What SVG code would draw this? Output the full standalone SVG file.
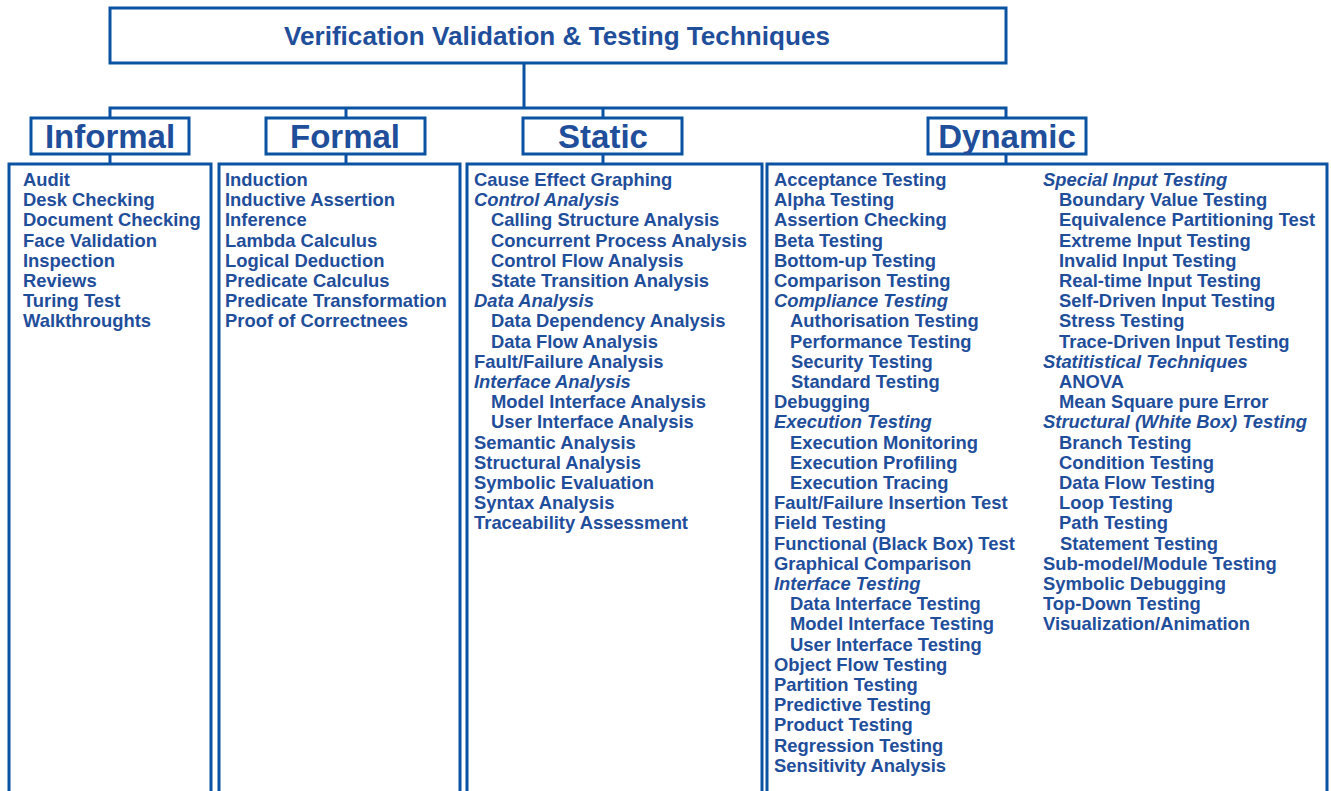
<svg xmlns="http://www.w3.org/2000/svg" width="1331" height="791" viewBox="0 0 1331 791">
<style>
.box{fill:#fff;stroke:#0a52a2;stroke-width:3}
.ln{fill:none;stroke:#0a52a2;stroke-width:3}
.t{font-family:"Liberation Sans",Arial,sans-serif;font-weight:bold;fill:#1f4e9b}
.it{font-style:italic}
.cat{font-size:33px;text-anchor:middle}
.li{font-size:18.4px}
</style>
<rect width="1331" height="791" fill="#fff"/>
<g id="connectors">
<path class="ln" d="M524 63V108M110 108H1006M110 106.5V118M346 108V118M603 108V118M1006 106.5V118M110 154V164M346 154V164M603 154V164M1006 154V164"/>
</g>
<g id="title">
<rect class="box" x="110" y="8" width="896" height="55"/>
<text class="t" x="284" y="45" font-size="26" textLength="546" lengthAdjust="spacingAndGlyphs">Verification Validation &amp; Testing Techniques</text>
</g>
<g id="informal">
<rect class="box" x="31" y="118" width="158" height="36"/>
<text class="t cat" x="110" y="148">Informal</text>
</g>
<g id="formal">
<rect class="box" x="266" y="118" width="159" height="36"/>
<text class="t cat" x="345" y="148">Formal</text>
</g>
<g id="static">
<rect class="box" x="523" y="118" width="159" height="36"/>
<text class="t cat" x="603" y="148">Static</text>
</g>
<g id="dynamic">
<rect class="box" x="928" y="118" width="158" height="36"/>
<text class="t cat" x="1007" y="148">Dynamic</text>
</g>
<g id="informal-list">
<rect class="box" x="9" y="164" width="202" height="640"/>
<text class="t li" x="23" y="186">Audit</text>
<text class="t li" x="23" y="206.2">Desk Checking</text>
<text class="t li" x="23" y="226.4">Document Checking</text>
<text class="t li" x="23" y="246.6">Face Validation</text>
<text class="t li" x="23" y="266.8">Inspection</text>
<text class="t li" x="23" y="287">Reviews</text>
<text class="t li" x="23" y="307.2">Turing Test</text>
<text class="t li" x="23" y="327.4">Walkthroughts</text>
</g>
<g id="formal-list">
<rect class="box" x="219" y="164" width="241" height="640"/>
<text class="t li" x="225" y="186">Induction</text>
<text class="t li" x="225" y="206.2">Inductive Assertion</text>
<text class="t li" x="225" y="226.4">Inference</text>
<text class="t li" x="225" y="246.6">Lambda Calculus</text>
<text class="t li" x="225" y="266.8">Logical Deduction</text>
<text class="t li" x="225" y="287">Predicate Calculus</text>
<text class="t li" x="225" y="307.2">Predicate Transformation</text>
<text class="t li" x="225" y="327.4">Proof of Correctnees</text>
</g>
<g id="static-list">
<rect class="box" x="467" y="164" width="295" height="640"/>
<text class="t li" x="474" y="186">Cause Effect Graphing</text>
<text class="t li it" x="474" y="206.2">Control Analysis</text>
<text class="t li" x="491" y="226.4">Calling Structure Analysis</text>
<text class="t li" x="491" y="246.6">Concurrent Process Analysis</text>
<text class="t li" x="491" y="266.8">Control Flow Analysis</text>
<text class="t li" x="491" y="287">State Transition Analysis</text>
<text class="t li it" x="474" y="307.2">Data Analysis</text>
<text class="t li" x="491" y="327.4">Data Dependency Analysis</text>
<text class="t li" x="491" y="347.6">Data Flow Analysis</text>
<text class="t li" x="474" y="367.8">Fault/Failure Analysis</text>
<text class="t li it" x="474" y="388">Interface Analysis</text>
<text class="t li" x="491" y="408.2">Model Interface Analysis</text>
<text class="t li" x="491" y="428.4">User Interface Analysis</text>
<text class="t li" x="474" y="448.6">Semantic Analysis</text>
<text class="t li" x="474" y="468.8">Structural Analysis</text>
<text class="t li" x="474" y="489">Symbolic Evaluation</text>
<text class="t li" x="474" y="509.2">Syntax Analysis</text>
<text class="t li" x="474" y="529.4">Traceability Assessment</text>
</g>
<g id="dynamic-list">
<rect class="box" x="767" y="164" width="560" height="640"/>
<text class="t li" x="774" y="186">Acceptance Testing</text>
<text class="t li" x="774" y="206.2">Alpha Testing</text>
<text class="t li" x="774" y="226.4">Assertion Checking</text>
<text class="t li" x="774" y="246.6">Beta Testing</text>
<text class="t li" x="774" y="266.8">Bottom-up Testing</text>
<text class="t li" x="774" y="287">Comparison Testing</text>
<text class="t li it" x="774" y="307.2">Compliance Testing</text>
<text class="t li" x="790" y="327.4">Authorisation Testing</text>
<text class="t li" x="790" y="347.6">Performance Testing</text>
<text class="t li" x="791" y="367.8">Security Testing</text>
<text class="t li" x="791" y="388">Standard Testing</text>
<text class="t li" x="774" y="408.2">Debugging</text>
<text class="t li it" x="774" y="428.4">Execution Testing</text>
<text class="t li" x="790" y="448.6">Execution Monitoring</text>
<text class="t li" x="790" y="468.8">Execution Profiling</text>
<text class="t li" x="790" y="489">Execution Tracing</text>
<text class="t li" x="774" y="509.2">Fault/Failure Insertion Test</text>
<text class="t li" x="774" y="529.4">Field Testing</text>
<text class="t li" x="774" y="549.6">Functional (Black Box) Test</text>
<text class="t li" x="774" y="569.8">Graphical Comparison</text>
<text class="t li it" x="774" y="590">Interface Testing</text>
<text class="t li" x="790" y="610.2">Data Interface Testing</text>
<text class="t li" x="790" y="630.4">Model Interface Testing</text>
<text class="t li" x="790" y="650.6">User Interface Testing</text>
<text class="t li" x="774" y="670.8">Object Flow Testing</text>
<text class="t li" x="774" y="691">Partition Testing</text>
<text class="t li" x="774" y="711.2">Predictive Testing</text>
<text class="t li" x="774" y="731.4">Product Testing</text>
<text class="t li" x="774" y="751.6">Regression Testing</text>
<text class="t li" x="774" y="771.8">Sensitivity Analysis</text>
<text class="t li it" x="1043" y="186">Special Input Testing</text>
<text class="t li" x="1059" y="206.2">Boundary Value Testing</text>
<text class="t li" x="1059" y="226.4">Equivalence Partitioning Test</text>
<text class="t li" x="1059" y="246.6">Extreme Input Testing</text>
<text class="t li" x="1059" y="266.8">Invalid Input Testing</text>
<text class="t li" x="1059" y="287">Real-time Input Testing</text>
<text class="t li" x="1059" y="307.2">Self-Driven Input Testing</text>
<text class="t li" x="1059" y="327.4">Stress Testing</text>
<text class="t li" x="1059" y="347.6">Trace-Driven Input Testing</text>
<text class="t li it" x="1043" y="367.8">Statitistical Techniques</text>
<text class="t li" x="1059" y="388">ANOVA</text>
<text class="t li" x="1059" y="408.2">Mean Square pure Error</text>
<text class="t li it" x="1043" y="428.4">Structural (White Box) Testing</text>
<text class="t li" x="1059" y="448.6">Branch Testing</text>
<text class="t li" x="1059" y="468.8">Condition Testing</text>
<text class="t li" x="1059" y="489">Data Flow Testing</text>
<text class="t li" x="1059" y="509.2">Loop Testing</text>
<text class="t li" x="1059" y="529.4">Path Testing</text>
<text class="t li" x="1060" y="549.6">Statement Testing</text>
<text class="t li" x="1043" y="569.8">Sub-model/Module Testing</text>
<text class="t li" x="1043" y="590">Symbolic Debugging</text>
<text class="t li" x="1043" y="610.2">Top-Down Testing</text>
<text class="t li" x="1043" y="630.4">Visualization/Animation</text>
</g>
</svg>
